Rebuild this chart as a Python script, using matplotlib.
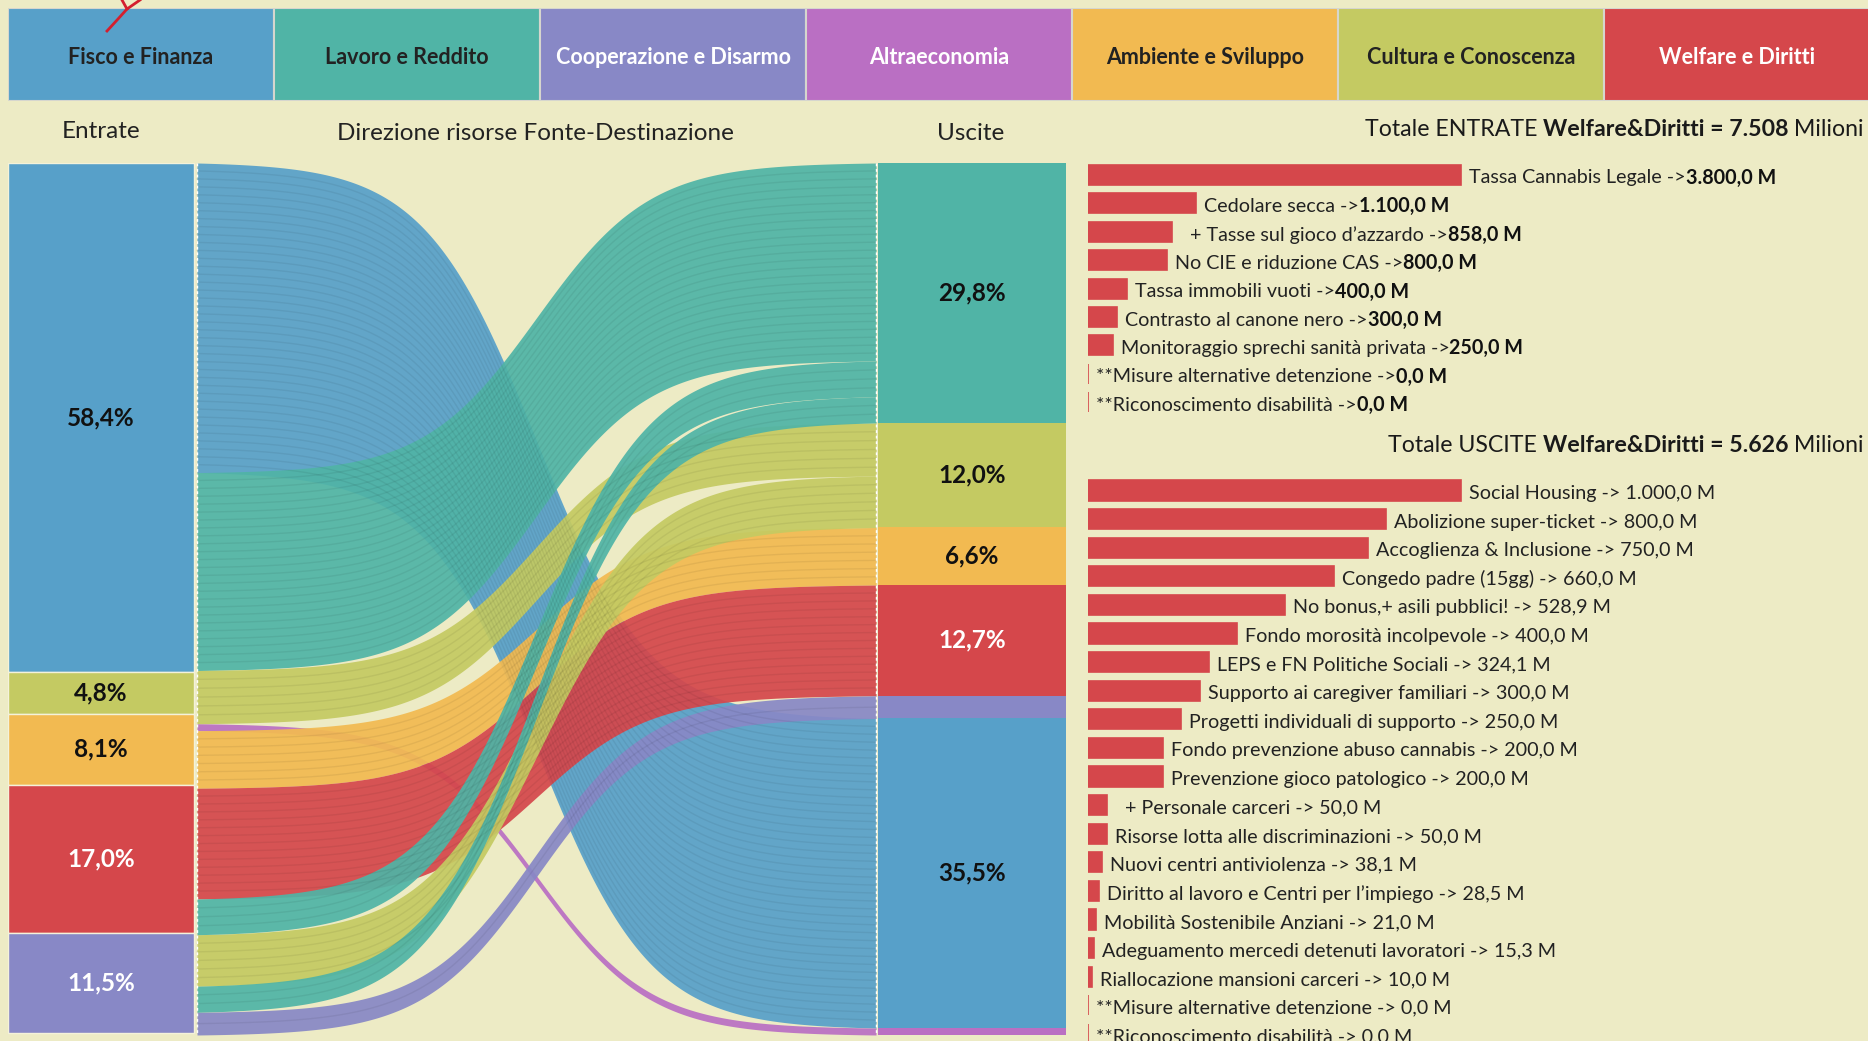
import numpy as np
import matplotlib
matplotlib.use("Agg")
import matplotlib.pyplot as plt

plt.rcParams['font.family'] = ['Lato', 'DejaVu Sans']

# ------------------------------------------------------------------
# Dati
# ------------------------------------------------------------------
aree = ['Fisco e Finanza', 'Lavoro e Reddito', 'Cooperazione e Disarmo',
        'Altraeconomia', 'Ambiente e Sviluppo', 'Cultura e Conoscenza',
        'Welfare e Diritti']
colori = ['#57A0C9', '#50B4A6', '#8888C6', '#BA6FC3', '#F2BA51', '#C4CA62', '#D5474B']
testo_bianco = ['Cooperazione e Disarmo', 'Altraeconomia', 'Welfare e Diritti']
col = dict(zip(aree, colori))

# colonna Entrate (%)
entrate_cat = ['Fisco e Finanza', 'Cultura e Conoscenza', 'Ambiente e Sviluppo',
               'Welfare e Diritti', 'Cooperazione e Disarmo']
entrate_pct = [58.4, 4.8, 8.1, 17.0, 11.5]

# flussi (ordine lato sinistro) e ordine lato destro
flussi_cat = ['Fisco e Finanza', 'Lavoro e Reddito', 'Cultura e Conoscenza',
              'Altraeconomia', 'Ambiente e Sviluppo', 'Welfare e Diritti',
              'Lavoro e Reddito', 'Cultura e Conoscenza', 'Lavoro e Reddito',
              'Cooperazione e Disarmo']
flussi_val = [35.5, 22.7, 6.1, 0.8, 6.6, 12.7, 4.1, 5.9, 3.0, 2.6]
ordine_destra = [1, 6, 8, 2, 7, 4, 5, 9, 0, 3]
ordine_disegno = [0, 1, 3, 4, 5, 2, 7, 6, 8, 9]

# voci entrate / uscite Welfare&Diritti (milioni)
ent_voci = ['Tassa Cannabis Legale', 'Cedolare secca', '  + Tasse sul gioco d\u2019azzardo',
            'No CIE e riduzione CAS', 'Tassa immobili vuoti', 'Contrasto al canone nero',
            'Monitoraggio sprechi sanit\u00e0 privata', '**Misure alternative detenzione',
            '**Riconoscimento disabilit\u00e0']
ent_val = [3800.0, 1100.0, 858.0, 800.0, 400.0, 300.0, 250.0, 0.0, 0.0]

usc_voci = ['Social Housing', 'Abolizione super-ticket', 'Accoglienza & Inclusione',
            'Congedo padre (15gg)', 'No bonus,+ asili pubblici!', 'Fondo morosit\u00e0 incolpevole',
            'LEPS e FN Politiche Sociali', 'Supporto ai caregiver familiari',
            'Progetti individuali di supporto', 'Fondo prevenzione abuso cannabis',
            'Prevenzione gioco patologico', '  + Personale carceri',
            'Risorse lotta alle discriminazioni', 'Nuovi centri antiviolenza',
            'Diritto al lavoro e Centri per l\u2019impiego', 'Mobilit\u00e0 Sostenibile Anziani',
            'Adeguamento mercedi detenuti lavoratori', 'Riallocazione mansioni carceri',
            '**Misure alternative detenzione', '**Riconoscimento disabilit\u00e0']
usc_val = [1000.0, 800.0, 750.0, 660.0, 528.9, 400.0, 324.1, 300.0, 250.0, 200.0,
           200.0, 50.0, 50.0, 38.1, 28.5, 21.0, 15.3, 10.0, 0.0, 0.0]

tot_entrate = '7.508'
tot_uscite = '5.626'

# ------------------------------------------------------------------
W, H = 1868, 1041
SFONDO = '#EDEBC5'
fig = plt.figure(figsize=(W / 100, H / 100), dpi=100, facecolor=SFONDO)


def assi_px(x0, y0, x1, y1):
    a = fig.add_axes([x0 / W, 1 - y1 / H, (x1 - x0) / W, (y1 - y0) / H])
    a.set_facecolor('none')
    a.axis('off')
    return a


def fmt_it(v):
    return f"{v:,.1f}".replace(',', '#').replace('.', ',').replace('#', '.')


def fmt_pct(v):
    return f"{v:.1f}%".replace('.', ',')


# strato di sfondo in pixel per i testi
bg = assi_px(0, 0, W, H)
bg.set_xlim(0, W)
bg.set_ylim(H, 0)
renderer = fig.canvas.get_renderer()

# ------------------------------------------------------------------
# Intestazione
# ------------------------------------------------------------------
ax_h = assi_px(8, 8, 8 + 266 * 7, 101)
ax_h.bar(range(7), [1] * 7, width=1, color=colori, edgecolor='#D6D6CE', linewidth=1.5)
ax_h.set_xlim(-0.5, 6.5)
ax_h.set_ylim(0, 1)
for i, a in enumerate(aree):
    ax_h.text(i, 0.47, a, ha='center', va='center', fontsize=15.5, fontweight='bold',
              color='white' if a in testo_bianco else '#222222')

bg.text(101, 132, 'Entrate', ha='center', va='center', fontsize=17.5, color='#222222')
bg.text(535, 133, 'Direzione risorse Fonte-Destinazione', ha='center', va='center',
        fontsize=17.5, color='#222222')
bg.text(971, 133, 'Uscite', ha='center', va='center', fontsize=17.5, color='#222222')


def totale(y, tipo, valore):
    x = 1864
    pezzi = [(' Milioni', 'normal'), ('Welfare&Diritti = ' + valore, 'bold'),
             ('Totale ' + tipo + ' ', 'normal')]
    for s, w in pezzi:
        t = bg.text(x, y, s, ha='right', va='center', fontsize=16.7, fontweight=w,
                    color='#1a1a1a')
        x -= t.get_window_extent(renderer).width


totale(130, 'ENTRATE', tot_entrate)
totale(446, 'USCITE', tot_uscite)

# ------------------------------------------------------------------
# Sankey
# ------------------------------------------------------------------
ax = assi_px(8, 163, 1066, 1035)
ax.set_xlim(8, 1066)
ax.set_ylim(100, 0)

XL, XR = 197, 876
# colonna Entrate
fondo = np.concatenate([[0], np.cumsum(entrate_pct)[:-1]])
ax.bar(101, entrate_pct, bottom=fondo, width=186,
       color=[col[c] for c in entrate_cat], edgecolor='#F4F2DA', linewidth=1)
for c, v, b in zip(entrate_cat, entrate_pct, fondo):
    ax.text(101, b + v / 2, fmt_pct(v), ha='center', va='center', fontsize=17.5,
            fontweight='bold', color='white' if c in testo_bianco else '#111111')

# posizioni flussi
sx_top = np.concatenate([[0], np.cumsum(flussi_val)[:-1]])
dx_top = np.zeros(len(flussi_val))
acc = 0.0
for i in ordine_destra:
    dx_top[i] = acc
    acc += flussi_val[i]

xs = np.linspace(XL, XR, 300)
t = np.linspace(-6, 6, 300)
s = 1 / (1 + np.exp(-t))
s = (s - s[0]) / (s[-1] - s[0])
for i in ordine_disegno:
    c = col[flussi_cat[i]]
    v = flussi_val[i]
    top = sx_top[i] + (dx_top[i] - sx_top[i]) * s
    ax.fill_between(xs, top, top + v, color=c, alpha=0.93, lw=0)
    n = max(int(v / 0.9), 1)
    for k in range(1, n):
        ax.plot(xs, top + v * k / n, color='#000000', alpha=0.06, lw=1.0)

# colonna Uscite (somma dei flussi per area)
usc_cat, usc_pct = [], []
for i in ordine_destra:
    c = flussi_cat[i]
    if usc_cat and usc_cat[-1] == c:
        usc_pct[-1] += flussi_val[i]
    else:
        usc_cat.append(c)
        usc_pct.append(flussi_val[i])
fondo_u = np.concatenate([[0], np.cumsum(usc_pct)[:-1]])
ax.bar(972, usc_pct, bottom=fondo_u, width=188,
       color=[col[c] for c in usc_cat], edgecolor='none')
for c, v, b in zip(usc_cat, usc_pct, fondo_u):
    if v > 4:
        ax.text(972, b + v / 2, fmt_pct(v), ha='center', va='center', fontsize=17.5,
                fontweight='bold', color='white' if c in testo_bianco else '#111111')

ax.vlines([XL, XR], 0, 100, colors='white', linestyles=(0, (2, 2)), lw=1)

# ------------------------------------------------------------------
# Barre voci
# ------------------------------------------------------------------
FS = 14.2


def pannello(voci, valori, y0, passo, px_max, v_max, grassetto):
    n = len(voci)
    a = assi_px(1088, y0 - passo / 2, W, y0 + passo * (n - 0.5))
    a.set_xlim(0, v_max * (W - 1088) / px_max)
    a.set_ylim(n - 0.5, -0.5)
    a.barh(range(n), valori, height=0.7, color='#D5474B', edgecolor='#D5474B', lw=1.2)
    for i, (lab, v) in enumerate(zip(voci, valori)):
        if grassetto:
            t1 = a.annotate(lab + ' ->', (v, i), xytext=(8, -3), textcoords='offset pixels',
                            va='center', fontsize=FS, color='#222222')
            w = t1.get_window_extent(renderer).width
            a.annotate(fmt_it(v) + ' M', (v, i), xytext=(8 + w, -3),
                       textcoords='offset pixels', va='center', fontsize=FS,
                       fontweight='bold', color='#111111')
        else:
            a.annotate(f"{lab} -> {fmt_it(v)} M", (v, i), xytext=(8, -3),
                       textcoords='offset pixels', va='center', fontsize=FS,
                       color='#222222')


pannello(ent_voci, ent_val, 175, 28.4, 372.9, max(ent_val), True)
pannello(usc_voci, usc_val, 490.5, 28.6, 372.9, max(usc_val), False)

# segno rosso (logo tagliato) sopra l'intestazione
top = assi_px(0, 0, W, H)
top.set_xlim(0, W)
top.set_ylim(H, 0)
top.plot([107, 118, 127, 140], [31, 19, 9, 0], color='#D41F2E', lw=2)
top.plot([127, 122], [9, 0], color='#D41F2E', lw=2)

fig.savefig('out.png', dpi=100, facecolor=SFONDO)
